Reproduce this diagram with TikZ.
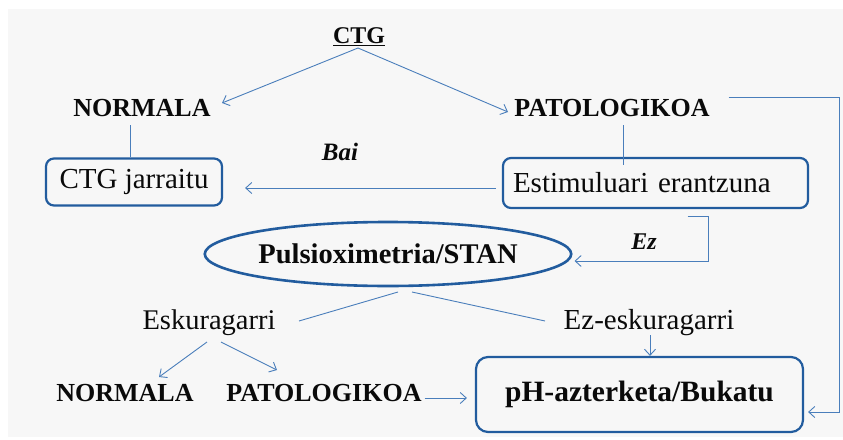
\documentclass[tikz,border=0pt]{standalone}
\usepackage{fontspec}
\setmainfont{Liberation Serif}
\usetikzlibrary{arrows.meta,calc,shapes.geometric}
\definecolor{linkblue}{RGB}{74,126,187}
\definecolor{frameblue}{RGB}{34,92,158}
\definecolor{paper}{RGB}{247,247,247}
\definecolor{ink}{RGB}{10,10,10}
\tikzset{
  capsbold/.style={text=ink,inner sep=2pt,font=\fontsize{26}{29}\selectfont\bfseries},
  plaintxt/.style={text=ink,inner sep=2pt,font=\fontsize{29}{32}\selectfont},
  answer/.style={text=ink,inner sep=2pt,font=\fontsize{25}{28}\selectfont\bfseries\itshape},
  stepbox/.style={draw=frameblue,line width=2.2pt,rounded corners=8pt,inner sep=0pt},
  link/.style={draw=linkblue,line width=0.9pt},
  arrowlink/.style={link,-{Straight Barb[length=6pt,width=11pt]}},
}
\begin{document}
\begin{tikzpicture}[x=1pt,y=-1pt]
  \useasboundingbox (0,0) rectangle (843,439);
  \fill[paper] (8,9) rectangle (843,437);

  % text nodes
  \node[capsbold,font=\fontsize{24}{28}\selectfont\bfseries] (ctg) at (359,37) {\underline{CTG}};
  \node[capsbold] (norm1) at (142,108) {NORMALA};
  \node[capsbold] (pat1) at (612,108) {PATOLOGIKOA};
  \node[stepbox,plaintxt,minimum width=176pt,minimum height=47pt] (jarr) at (134,182) {CTG jarraitu};
  \node[stepbox,plaintxt,minimum width=305pt,minimum height=50pt,
        text width=285pt,align=left] (estim) at (655.5,183) {Estimuluari erantzuna};
  \node[answer] (bai) at (340,152) {Bai};
  \node[answer,font=\fontsize{24}{28}\selectfont\bfseries\itshape] (ez) at (644,242) {Ez};
  \node[ellipse,draw=frameblue,line width=2.6pt,minimum width=311pt,minimum height=64pt,
        inner sep=0pt,text=ink,font=\fontsize{28.5}{32}\selectfont\bfseries] (puls) at (388,254) {Pulsioximetria/STAN};
  \node[plaintxt,font=\fontsize{28.5}{32}\selectfont] (esk) at (209,323) {Eskuragarri};
  \node[plaintxt] (ezesk) at (649,323) {Ez-eskuragarri};
  \node[capsbold] (norm2) at (125,393) {NORMALA};
  \node[capsbold] (pat2) at (324,393) {PATOLOGIKOA};
  \node[stepbox,rounded corners=12pt,minimum width=327pt,minimum height=75pt,
        text=ink,font=\fontsize{29.5}{32}\selectfont\bfseries] (ph) at (639.5,394.5) {pH-azterketa/Bukatu};

  % connector end points
  \coordinate (ctgS) at ($(ctg.center)+(-1,11)$);
  \coordinate (n1tip) at ($(norm1.center)+(80,-5)$);
  \coordinate (p1tip) at ($(pat1.center)+(-104,4)$);
  \coordinate (n1S) at ($(norm1.center)+(-12,17)$);
  \coordinate (p1S) at ($(pat1.center)+(11,17)$);
  \coordinate (baiS) at ($(estim.west)+(-6,5)$);
  \coordinate (baiE) at ($(jarr.east)+(22,0)$);
  \coordinate (ezS) at ($(estim.south)+(32,7)$);
  \coordinate (ezE) at ($(puls.east)+(2,7)$);
  \coordinate (pl) at ($(puls.center)+(10,38)$);
  \coordinate (pr) at ($(puls.center)+(24,38)$);
  \coordinate (eskE) at ($(esk.center)+(90,-2)$);
  \coordinate (ezeskW) at ($(ezesk.center)+(-104,-2)$);
  \coordinate (eskL) at ($(esk.center)+(-2,19)$);
  \coordinate (eskR) at ($(esk.center)+(12,19)$);
  \coordinate (n2tip) at ($(norm2.center)+(34,-16)$);
  \coordinate (p2tip) at ($(pat2.center)+(-47,-23)$);
  \coordinate (p2E) at ($(pat2.east)+(1,5)$);
  \coordinate (phW) at ($(ph.west)+(-8,0)$);
  \coordinate (ezeskS) at ($(ezesk.center)+(1,12)$);
  \coordinate (loopS) at ($(pat1.east)+(17,-11)$);
  \coordinate (loopE) at ($(ph.east)+(4,17.5)$);

  % connectors
  \draw[arrowlink] (ctgS) -- (n1tip);
  \draw[arrowlink] (ctgS) -- (p1tip);
  \draw[link] (n1S) -- (n1S |- jarr.north);
  \draw[link] (p1S) -- ++(0,40);
  \draw[arrowlink] (baiS) -- (baiS -| baiE);
  \draw[arrowlink] (ezS) -- ++(21,0) |- (ezE);
  \draw[link] (pl) -- (eskE);
  \draw[link] (pr) -- (ezeskW);
  \draw[arrowlink] (eskL) -- (n2tip);
  \draw[arrowlink] (eskR) -- (p2tip);
  \draw[arrowlink] (p2E) -- (p2E -| phW);
  \draw[arrowlink] (ezeskS) -- (ezeskS |- ph.north);
  \draw[arrowlink] (loopS) -- ++(111,0) |- (loopE);
\end{tikzpicture}
\end{document}
